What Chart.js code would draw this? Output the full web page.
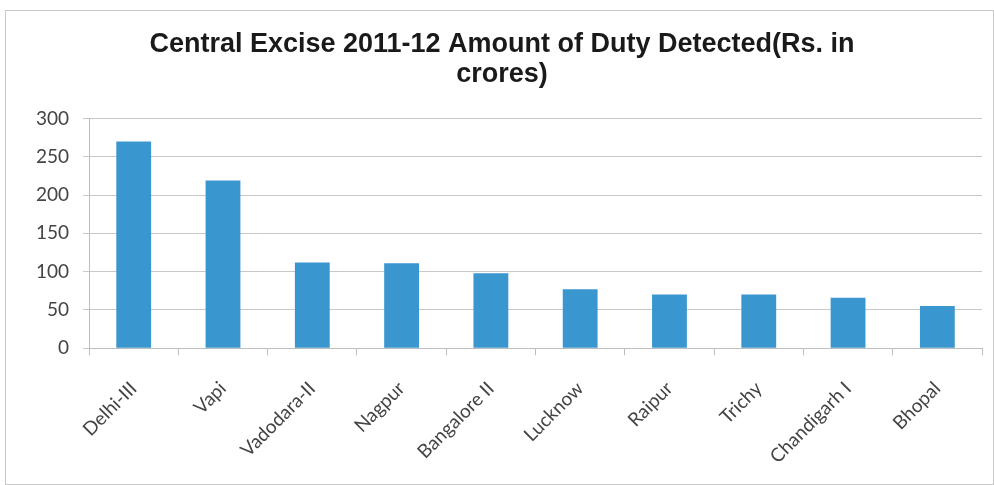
<!DOCTYPE html>
<html>
<head>
<meta charset="utf-8">
<script src="https://cdn.jsdelivr.net/npm/chart.js@4"></script>
<style>
  html, body { margin: 0; padding: 0; background: #fff; }
  canvas { display: block; }
</style>
</head>
<body>
<canvas id="chart" width="994" height="485"></canvas>
<script>
const CATEGORIES = ["Delhi-III", "Vapi", "Vadodara-II", "Nagpur", "Bangalore II",
  "Lucknow", "Raipur", "Trichy", "Chandigarh I", "Bhopal"];
const DUTY_DETECTED = [270, 219, 112, 111, 98, 77, 70, 70, 66, 55];
const TITLE_LINES = ["Central Excise 2011-12 Amount of Duty Detected(Rs. in", "crores)"];

// thin grey frame round the whole chart
const frame = {
  id: "frame",
  beforeDraw(chart) {
    const ctx = chart.ctx;
    ctx.save();
    ctx.fillStyle = "#fff";
    ctx.fillRect(0, 0, chart.width, chart.height);
    ctx.strokeStyle = "#c8c8c8";
    ctx.lineWidth = 1;
    ctx.strokeRect(5.5, 10.5, chart.width - 6, chart.height - 11);
    ctx.restore();
  }
};

const ctx = document.getElementById("chart").getContext("2d");
new Chart(ctx, {
  type: "bar",
  data: {
    labels: CATEGORIES,
    datasets: [{
      data: DUTY_DETECTED,
      backgroundColor: "#3a96cf",
      barPercentage: 0.65,
      categoryPercentage: 0.6
    }]
  },
  options: {
    responsive: false,
    animation: false,
    layout: { padding: { top: 30, left: 22, right: 12, bottom: -5 } },
    plugins: {
      legend: { display: false },
      tooltip: { enabled: false },
      title: {
        display: true,
        text: TITLE_LINES,
        color: "#1a1a1a",
        font: { family: "Liberation Sans", size: 27, weight: "bold", lineHeight: 1.1 },
        padding: { top: 0, bottom: 29 }
      }
    },
    scales: {
      x: {
        grid: {
          offset: true,
          drawOnChartArea: false,
          drawTicks: true,
          tickLength: 7,
          color: "#bdbdbd"
        },
        border: { color: "#bdbdbd" },
        ticks: {
          color: "#444",
          font: { family: "Lato", size: 19 },
          maxRotation: 45,
          minRotation: 45,
          padding: 22
        }
      },
      y: {
        min: 0,
        max: 300,
        grid: {
          color: "#c8c8c8",
          tickLength: 6
        },
        border: { color: "#bdbdbd" },
        ticks: {
          stepSize: 50,
          color: "#444",
          font: { family: "Lato", size: 19 },
          padding: 14
        }
      }
    }
  },
  plugins: [frame]
});
</script>
</body>
</html>
